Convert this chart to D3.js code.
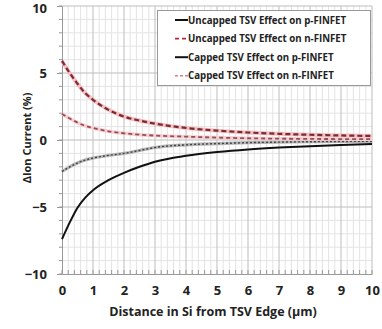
<!DOCTYPE html>
<html>
<head>
<meta charset="utf-8">
<script src="https://cdn.jsdelivr.net/npm/d3@7"></script>
<style>
  body { margin: 0; background: #fff; }
  text { font-family: "Open Sans", Lato, sans-serif; font-weight: bold; fill: #222; }
</style>
</head>
<body>
<svg id="chart" width="382" height="329"></svg>
<script>
// distance in Si (um) where values were read
const dist = [0, 0.25, 0.5, 0.75, 1, 1.5, 2, 2.5, 3, 4, 5, 6, 7, 8, 9, 10];

// delta Ion current (%) per series
const uncappedP = [-7.4, -6.15, -5.05, -4.3, -3.75, -3.0, -2.45, -2.0, -1.62, -1.18, -0.9, -0.7, -0.56, -0.46, -0.38, -0.3];
const uncappedN = [5.9, 5.0, 4.2, 3.5, 3.0, 2.25, 1.75, 1.45, 1.22, 0.9, 0.7, 0.56, 0.46, 0.39, 0.34, 0.3];
const cappedP = [-2.35, -2.0, -1.72, -1.5, -1.35, -1.15, -1.0, -0.78, -0.56, -0.36, -0.27, -0.2, -0.16, -0.13, -0.11, -0.1];
const cappedN = [1.95, 1.6, 1.3, 1.05, 0.9, 0.65, 0.5, 0.4, 0.33, 0.25, 0.18, 0.13, 0.1, 0.08, 0.07, 0.06];

const xTicks = d3.range(0, 11, 1);
const yTicks = [-10, -5, 0, 5, 10];

const legendLabels = [
  "Uncapped TSV Effect on p-FINFET",
  "Uncapped TSV Effect on n-FINFET",
  "Capped TSV Effect on p-FINFET",
  "Capped TSV Effect on n-FINFET"
];

var svg = d3.select("#chart");
var margin = { left: 62, right: 10, top: 6, bottom: 55 };
var width = 382, height = 329;

var x = d3.scaleLinear().domain([0, 10]).range([margin.left, width - margin.right]);
var y = d3.scaleLinear().domain([-10, 10]).range([height - margin.bottom, margin.top]);

// grid
var grid = svg.append("g");
grid.selectAll(".vminor")
  .data(d3.range(0, 10.01, 0.2).filter(d => Math.abs(d - Math.round(d)) > 0.01))
  .enter().append("line")
  .attr("x1", d => x(d)).attr("x2", d => x(d))
  .attr("y1", y(-10)).attr("y2", y(10))
  .attr("stroke", "#e4e4e4").attr("stroke-width", 1);
grid.selectAll(".hminor")
  .data(d3.range(-10, 10.01, 1).filter(d => d % 5 !== 0))
  .enter().append("line")
  .attr("x1", x(0)).attr("x2", x(10))
  .attr("y1", d => y(d)).attr("y2", d => y(d))
  .attr("stroke", "#e4e4e4").attr("stroke-width", 1);
grid.selectAll(".vmajor")
  .data(xTicks.slice(1))
  .enter().append("line")
  .attr("x1", d => x(d)).attr("x2", d => x(d))
  .attr("y1", y(-10)).attr("y2", y(10))
  .attr("stroke", "#bdbdbd").attr("stroke-width", 1);
grid.selectAll(".hmajor")
  .data(yTicks.filter(d => d !== -10))
  .enter().append("line")
  .attr("x1", x(0)).attr("x2", x(10))
  .attr("y1", d => y(d)).attr("y2", d => y(d))
  .attr("stroke", "#bdbdbd").attr("stroke-width", 1);

// axes
var xAxis = svg.append("g")
  .attr("transform", "translate(0," + y(-10) + ")")
  .call(d3.axisBottom(x).tickValues(xTicks).tickSize(0).tickPadding(12).tickFormat(d3.format("d")));
xAxis.select(".domain").attr("stroke", "#999");
xAxis.selectAll("text").style("font-size", "13px");
// small minor ticks up from the x axis
svg.append("g").selectAll("line")
  .data(d3.range(0, 10.01, 0.2))
  .enter().append("line")
  .attr("x1", d => x(d)).attr("x2", d => x(d))
  .attr("y1", y(-10)).attr("y2", y(-10) - 4)
  .attr("stroke", "#999");

var yAxis = svg.append("g")
  .attr("transform", "translate(" + x(0) + ",0)")
  .call(d3.axisLeft(y).tickValues(yTicks).tickSize(5).tickPadding(10));
yAxis.select(".domain").attr("stroke", "#999");
yAxis.selectAll(".tick line").attr("stroke", "#999");
yAxis.selectAll("text").style("font-size", "13px");
// keep the top label inside the picture
yAxis.selectAll(".tick").filter(d => d === 10).select("text").attr("dy", "0.5em");
svg.append("g").selectAll("line")
  .data(d3.range(-10, 10.01, 1))
  .enter().append("line")
  .attr("x1", x(0) - 3).attr("x2", x(0))
  .attr("y1", d => y(d)).attr("y2", d => y(d))
  .attr("stroke", "#999");

// axis titles
svg.append("text")
  .attr("x", (x(0) + x(10)) / 2 - 4)
  .attr("y", 316)
  .attr("text-anchor", "middle")
  .style("font-size", "12.5px")
  .text("Distance in Si from TSV Edge (\u00b5m)");
svg.append("text")
  .attr("transform", "translate(31,138) rotate(-90)")
  .attr("text-anchor", "middle")
  .style("font-size", "11px")
  .text("\u0394Ion Current (%)");

// lines
var line = d3.line()
  .x((d, i) => x(dist[i]))
  .y(d => y(d))
  .curve(d3.curveMonotoneX);

var series = [
  { vals: uncappedP, layers: [{ stroke: "#111", width: 2, dash: null }] },
  { vals: uncappedN, layers: [{ stroke: "#f4c0c0", width: 4, dash: null }, { stroke: "#7a2a36", width: 2.2, dash: "5,3" }] },
  { vals: cappedP, layers: [{ stroke: "#b5b5b5", width: 3.2, dash: null }, { stroke: "#444", width: 1.4, dash: "2,2" }] },
  { vals: cappedN, layers: [{ stroke: "#f5d0d0", width: 3.5, dash: null }, { stroke: "#9a4a58", width: 1.8, dash: "4,3" }] }
];

var gLines = svg.append("g");
series.forEach(function(s) {
  s.layers.forEach(function(l) {
    gLines.append("path")
      .attr("d", line(s.vals))
      .attr("fill", "none")
      .attr("stroke", l.stroke)
      .attr("stroke-width", l.width)
      .attr("stroke-dasharray", l.dash);
  });
});

// legend
var legendSamples = [
  { stroke: "#111", width: 2, dash: null },
  { stroke: "#b02a3a", width: 1.6, dash: "4,3" },
  { stroke: "#111", width: 2, dash: null },
  { stroke: "#d08090", width: 1.4, dash: "3,2" }
];
var lg = svg.append("g");
lg.append("rect")
  .attr("x", 157.5).attr("y", 10.5)
  .attr("width", 213).attr("height", 75)
  .attr("fill", "#fff").attr("stroke", "#999");
legendLabels.forEach(function(lab, i) {
  var ly = 20 + i * 18.6;
  var l = legendSamples[i];
  lg.append("line")
    .attr("x1", 175).attr("x2", 188)
    .attr("y1", ly).attr("y2", ly)
    .attr("stroke", l.stroke)
    .attr("stroke-width", l.width)
    .attr("stroke-dasharray", l.dash);
  lg.append("text")
    .attr("x", 188).attr("y", ly + 3.5)
    .style("font-size", "9.7px")
    .text(lab);
});
</script>
</body>
</html>
